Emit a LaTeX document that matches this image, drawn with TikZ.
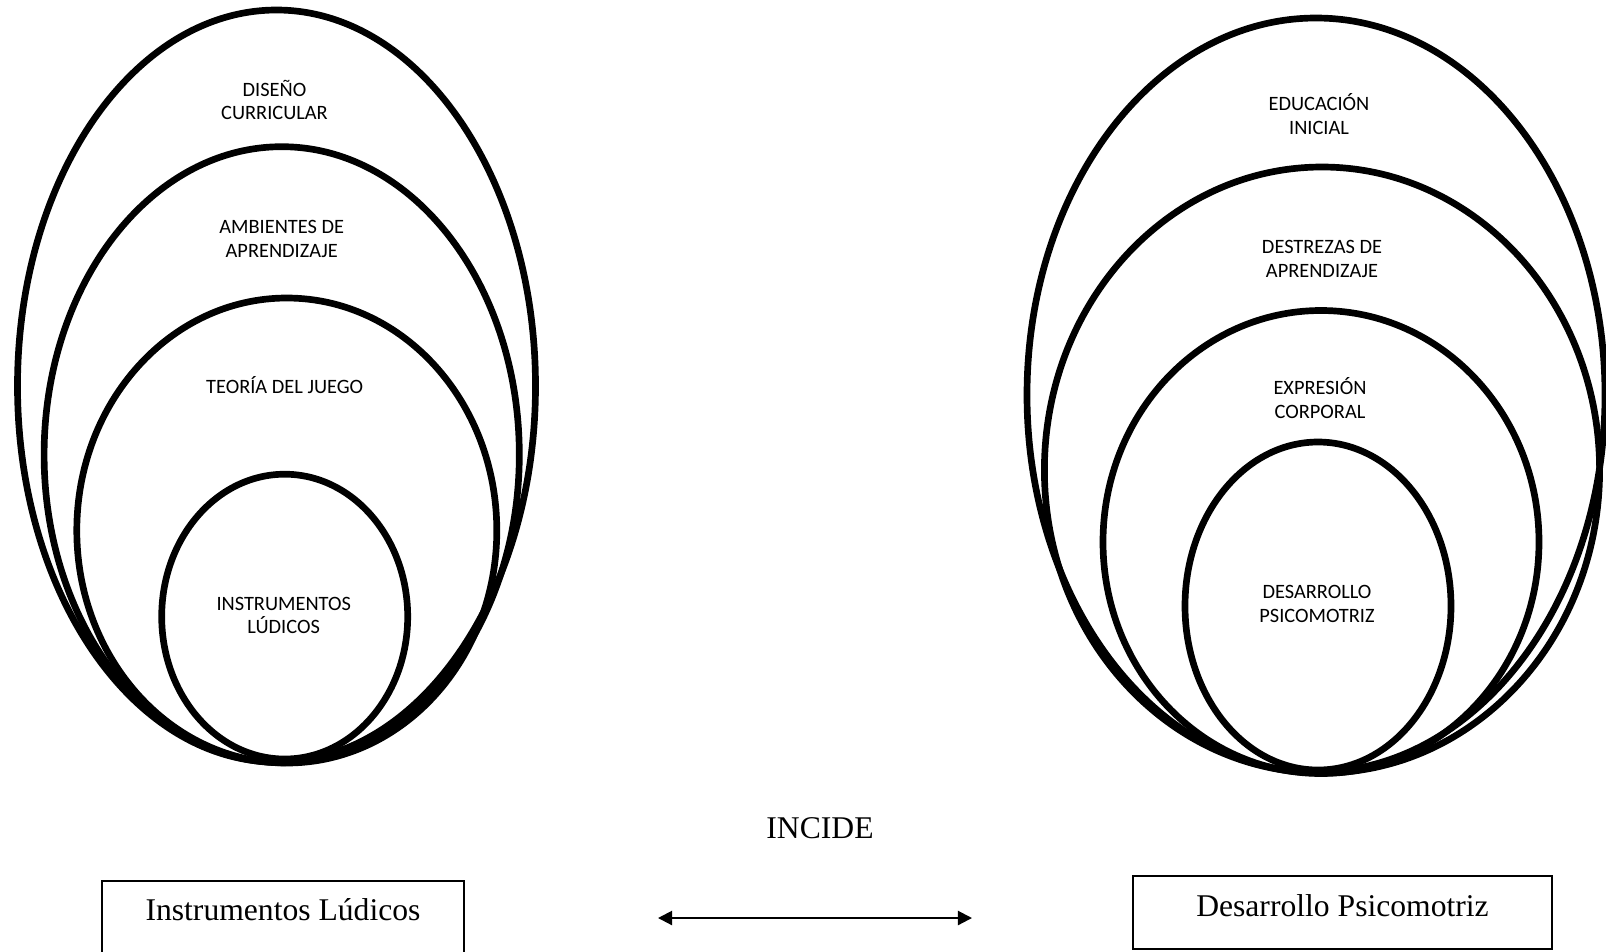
\documentclass[tikz,border=0pt]{standalone}
\usepackage{fontspec}
\setmainfont{Liberation Serif}
\newfontfamily\calibrifont{Carlito}
\usetikzlibrary{arrows.meta}
\tikzset{
  ring/.style={line width=3.8pt},
  lab/.style={font=\calibrifont\fontsize{11.6}{13.6}\selectfont, align=center, inner sep=0pt},
  namebox/.style={draw, line width=0.9pt, minimum height=1.46cm, inner sep=0pt, text height=12pt, text depth=8pt, font=\fontsize{18}{21}\selectfont}
}
\begin{document}
\begin{tikzpicture}[x=0.02cm,y=-0.02cm]
\clip (0,0) rectangle (1606,951);
% left group
\draw[ring] (276.5,386) ellipse [x radius=259, y radius=376];
\draw[ring] (281.7,454.7) ellipse [x radius=237.6, y radius=308];
\draw[ring] (286.8,530.5) ellipse [x radius=210, y radius=232.5];
\draw[ring] (284.7,616.6) ellipse [x radius=123, y radius=142.4];
\node[lab] (dc) at (274.5,100) {DISEÑO\\CURRICULAR};
\node[lab] (ad) at (281.7,238.6) {AMBIENTES DE\\APRENDIZAJE};
\node[lab] (tj) at (284.7,385) {TEORÍA DEL JUEGO};
\node[lab] (il) at (283.7,615.5) {INSTRUMENTOS\\LÚDICOS};
% right group
\draw[ring] (1316,395) ellipse [x radius=289, y radius=377];
\draw[ring] (1322,470) ellipse [x radius=277.6, y radius=303];
\draw[ring] (1321,542) ellipse [x radius=218, y radius=231.5];
\draw[ring] (1318,606) ellipse [x radius=133, y radius=164];
\node[lab] (ei) at (1319,113.7) {EDUCACIÓN\\INICIAL};
\node[lab] (da) at (1322,259) {DESTREZAS DE\\APRENDIZAJE};
\node[lab] (ec) at (1320,398) {EXPRESIÓN\\CORPORAL};
\node[lab] (dp) at (1317,604) {DESARROLLO\\PSICOMOTRIZ};
% bottom
\node[namebox, minimum width=7.24cm, anchor=north] (il2) at (283,880) {Instrumentos Lúdicos};
\node[namebox, minimum width=8.38cm] (dp2) at (1342.5,912.5) {Desarrollo Psicomotriz};
\node[font=\fontsize{18}{21}\selectfont] (inc) at (820,828) {INCIDE};
\coordinate (al) at (658,918);
\coordinate (ar) at (972,918);
\draw[line width=1.2pt, {Triangle[length=8pt,width=8pt]}-{Triangle[length=8pt,width=8pt]}] (al) -- (ar);
\end{tikzpicture}
\end{document}
